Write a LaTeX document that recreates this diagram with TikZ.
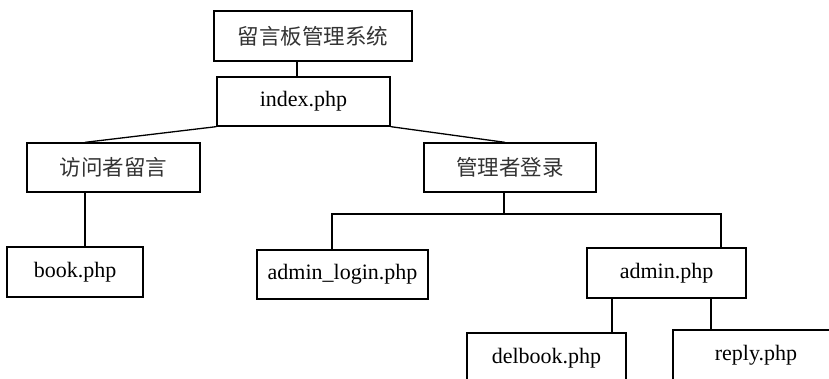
\documentclass[tikz,border=0pt]{standalone}
\usepackage{fontspec}
\setmainfont{Liberation Serif}
\newfontfamily\cjk{Noto Sans CJK SC}
\begin{document}
\begin{tikzpicture}[x=1pt,y=-1pt,
  box/.style={draw,line width=1.3pt,inner sep=0pt,font=\fontsize{22}{26}\selectfont},
  cbox/.style={box,font=\cjk\fontsize{21.5}{26}\selectfont,text=black!80},
  link/.style={line width=1.3pt}]
\useasboundingbox (0,0) rectangle (829,379);
\clip (0,0) rectangle (829,379);
\node[cbox,minimum width=198pt,minimum height=50pt] (top) at (313,36) {留言板管理系统};
\node[box,minimum width=173pt,minimum height=49pt] (index) at (303.5,101.5) {index.php};
\node[cbox,minimum width=173pt,minimum height=49pt] (visit) at (113.5,167.5) {访问者留言};
\node[cbox,minimum width=172pt,minimum height=49pt] (manage) at (510,167.5) {管理者登录};
\node[box,minimum width=136pt,minimum height=50pt] (book) at (75,272) {book.php};
\node[box,minimum width=171pt,minimum height=49pt] (login) at (342.5,274.5) {admin\_login.php};
\node[box,minimum width=159pt,minimum height=50pt] (admin) at (666.5,273) {admin.php};
\node[box,minimum width=159pt,minimum height=50pt] (del) at (546.5,358) {delbook.php};
\node[box,minimum width=166pt,minimum height=50pt] (reply) at (756,355) {reply.php};
\coordinate (bus) at (504,214);
\draw[link] (297,0 |- top.south) -- (297,0 |- index.north);
\draw[link] (index.south west) -- (85,0 |- visit.north);
\draw[link] (index.south east) -- (505,0 |- manage.north);
\draw[link] (85,0 |- visit.south) -- (85,0 |- book.north);
\draw[link] (504,0 |- manage.south) -- (bus);
\draw[link] (332,0 |- login.north) -- (332,0 |- bus) -- (721,0 |- bus) -- (721,0 |- admin.north);
\draw[link] (612,0 |- admin.south) -- (612,0 |- del.north);
\draw[link] (711,0 |- admin.south) -- (711,0 |- reply.north);
\end{tikzpicture}
\end{document}
